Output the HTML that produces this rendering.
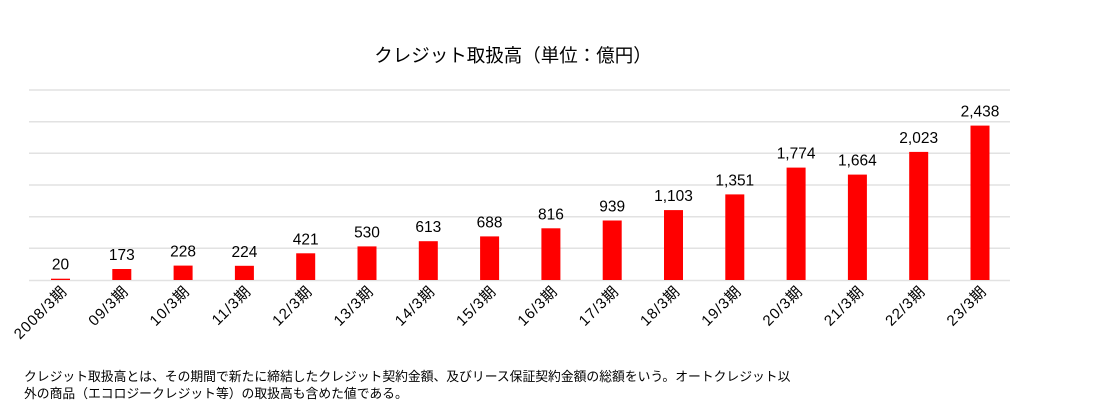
<!DOCTYPE html>
<html><head><meta charset="utf-8"><style>
body{margin:0;background:#fff;width:1093px;height:402px;overflow:hidden}
svg{display:block;font-family:"Liberation Sans","Noto Sans CJK JP",sans-serif}
</style></head><body>
<svg width="1093" height="402" viewBox="0 0 1093 402">
<text x="513" y="62" text-anchor="middle" font-size="18.5" fill="#000">クレジット取扱高（単位：億円）</text>
<g stroke="#e2e2e2" stroke-width="1.5">
<line x1="29" x2="1010" y1="90" y2="90"/><line x1="29" x2="1010" y1="121.7" y2="121.7"/>
<line x1="29" x2="1010" y1="153.3" y2="153.3"/><line x1="29" x2="1010" y1="185" y2="185"/>
<line x1="29" x2="1010" y1="216.7" y2="216.7"/><line x1="29" x2="1010" y1="248.3" y2="248.3"/>
<line x1="29" x2="1010" y1="280.5" y2="280.5"/>
</g>
<g fill="#ff0000">
<rect x="51" y="278.7" width="19" height="1.3"/>
<rect x="112.3" y="269" width="19" height="11"/>
<rect x="173.6" y="265.6" width="19" height="14.4"/>
<rect x="234.9" y="265.8" width="19" height="14.2"/>
<rect x="296.2" y="253.3" width="19" height="26.7"/>
<rect x="357.5" y="246.4" width="19" height="33.6"/>
<rect x="418.8" y="241.2" width="19" height="38.8"/>
<rect x="480.1" y="236.4" width="19" height="43.6"/>
<rect x="541.4" y="228.3" width="19" height="51.7"/>
<rect x="602.7" y="220.5" width="19" height="59.5"/>
<rect x="664" y="210.1" width="19" height="69.9"/>
<rect x="725.3" y="194.4" width="19" height="85.6"/>
<rect x="786.6" y="167.6" width="19" height="112.4"/>
<rect x="847.9" y="174.6" width="19" height="105.4"/>
<rect x="909.2" y="151.9" width="19" height="128.1"/>
<rect x="970.5" y="125.6" width="19" height="154.4"/>
</g>
<g font-size="15.5" text-anchor="middle" fill="#000">
<text x="60.5" y="269.7">20</text>
<text x="121.8" y="260">173</text>
<text x="183.1" y="256.6">228</text>
<text x="244.4" y="256.8">224</text>
<text x="305.7" y="244.3">421</text>
<text x="367" y="237.4">530</text>
<text x="428.3" y="232.2">613</text>
<text x="489.6" y="227.4">688</text>
<text x="550.9" y="219.3">816</text>
<text x="612.2" y="211.5">939</text>
<text x="673.5" y="201.1">1,103</text>
<text x="734.8" y="185.4">1,351</text>
<text x="796.1" y="158.6">1,774</text>
<text x="857.4" y="165.6">1,664</text>
<text x="918.7" y="142.9">2,023</text>
<text x="980" y="116.6">2,438</text>
</g>
<g font-size="15" text-anchor="end" fill="#000" letter-spacing="1">
<text transform="translate(68,292) rotate(-45)">2008/3期</text>
<text transform="translate(129.3,292) rotate(-45)">09/3期</text>
<text transform="translate(190.6,292) rotate(-45)">10/3期</text>
<text transform="translate(251.9,292) rotate(-45)">11/3期</text>
<text transform="translate(313.2,292) rotate(-45)">12/3期</text>
<text transform="translate(374.5,292) rotate(-45)">13/3期</text>
<text transform="translate(435.8,292) rotate(-45)">14/3期</text>
<text transform="translate(497.1,292) rotate(-45)">15/3期</text>
<text transform="translate(558.4,292) rotate(-45)">16/3期</text>
<text transform="translate(619.7,292) rotate(-45)">17/3期</text>
<text transform="translate(681,292) rotate(-45)">18/3期</text>
<text transform="translate(742.3,292) rotate(-45)">19/3期</text>
<text transform="translate(803.6,292) rotate(-45)">20/3期</text>
<text transform="translate(864.9,292) rotate(-45)">21/3期</text>
<text transform="translate(926.2,292) rotate(-45)">22/3期</text>
<text transform="translate(987.5,292) rotate(-45)">23/3期</text>
</g>
<g font-size="12.8" fill="#000">
<text x="24" y="381">クレジット取扱高とは、その期間で新たに締結したクレジット契約金額、及びリース保証契約金額の総額をいう。オートクレジット以</text>
<text x="24" y="398">外の商品（エコロジークレジット等）の取扱高も含めた値である。</text>
</g>
</svg>
</body></html>
